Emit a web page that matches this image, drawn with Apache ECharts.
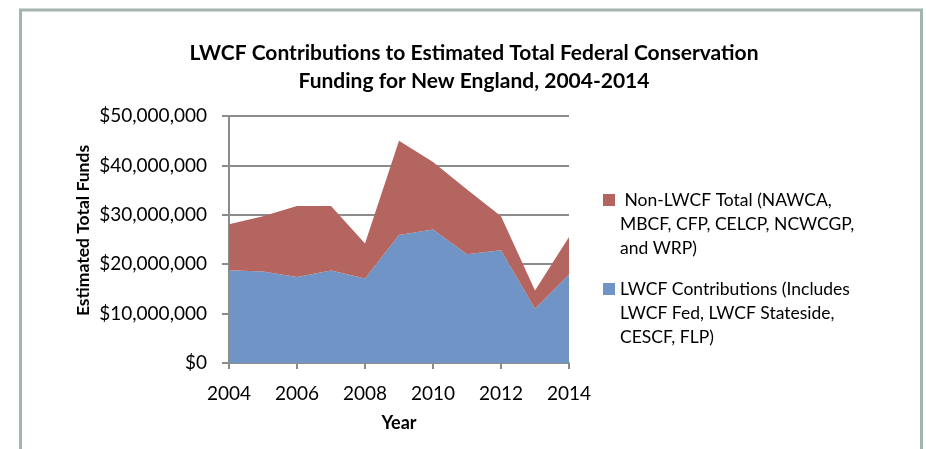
<!DOCTYPE html>
<html>
<head>
<meta charset="utf-8">
<script src="https://cdn.jsdelivr.net/npm/echarts@6/dist/echarts.min.js"></script>
<style>
html,body{margin:0;padding:0;background:#fff;}
#c{width:926px;height:449px;}
</style>
</head>
<body>
<div id="c"></div>
<script>
const years = ['2004','2005','2006','2007','2008','2009','2010','2011','2012','2013','2014'];
const lwcf = [18800000,18500000,17400000,18700000,17100000,25900000,27000000,22000000,22800000,11000000,17900000];
const nonLwcf = [9300000,11200000,14400000,13100000,7100000,19100000,13700000,13100000,6900000,3700000,7600000];
const yTicks = [0,10000000,20000000,30000000,40000000,50000000];

const titleText = 'LWCF Contributions to Estimated Total Federal Conservation\nFunding for New England, 2004-2014';
const nameLwcf = 'LWCF Contributions (Includes LWCF Fed, LWCF Stateside, CESCF, FLP)';
const nameNon = 'Non-LWCF Total (NAWCA, MBCF, CFP, CELCP, NCWCGP, and WRP)';
const legendText = {};
legendText[nameNon] = ' Non-LWCF Total (NAWCA,\nMBCF, CFP, CELCP, NCWCGP,\nand WRP)';
legendText[nameLwcf] = 'LWCF Contributions (Includes\nLWCF Fed, LWCF Stateside,\nCESCF, FLP)';

const FONT = 'Lato';
const chart = echarts.init(document.getElementById('c'), null, {renderer:'canvas'});
const iconPath = 'path://M0,6h12v12h-12z M0,0h0.01v0.01h-0.01z M11.99,71.99h0.01v0.01h-0.01z';

chart.setOption({
  animation:false,
  backgroundColor:'#fff',
  graphic:[{
    type:'rect', shape:{x:20.5,y:10,width:901,height:470},
    style:{fill:'none', stroke:'#a4b5ae', lineWidth:3}, silent:true
  }],
  title:{
    text:titleText, left:474, top:39, textAlign:'center', padding:0,
    textStyle:{fontFamily:FONT, fontWeight:'bold', fontSize:21, lineHeight:28, color:'#000'}
  },
  legend:{
    orient:'vertical', left:603, top:188, itemGap:17, padding:0,
    itemWidth:12, itemHeight:72,
    data:[{name:nameNon, icon:iconPath},{name:nameLwcf, icon:iconPath}],
    formatter:function(n){return legendText[n];},
    textStyle:{fontFamily:FONT, fontSize:17.5, lineHeight:24, color:'#000'},
    selectedMode:false
  },
  grid:{left:229, right:357, top:116, bottom:86, containLabel:false},
  xAxis:{
    type:'category', data:years, boundaryGap:false,
    name:'Year', nameLocation:'middle', nameGap:51,
    nameTextStyle:{fontFamily:FONT, fontWeight:'bold', fontSize:18, color:'#000'},
    axisLine:{show:true, lineStyle:{color:'#8c8c8c', width:2}},
    axisTick:{show:true, interval:1, length:6, lineStyle:{color:'#8c8c8c', width:2}},
    axisLabel:{interval:1, margin:21, fontFamily:FONT, fontSize:19, color:'#000'},
    splitLine:{show:false}
  },
  yAxis:{
    type:'value', min:0, max:50000000, interval:10000000,
    name:'Estimated Total Funds', nameLocation:'middle', nameGap:137,
    nameTextStyle:{fontFamily:FONT, fontWeight:'bold', fontSize:17.5, color:'#000', padding:[0,0,0,18]},
    axisLine:{show:true, lineStyle:{color:'#8c8c8c', width:2}},
    axisTick:{show:true, length:7, lineStyle:{color:'#8c8c8c', width:2}},
    axisLabel:{margin:22, fontFamily:FONT, fontSize:19, color:'#000',
      formatter:function(v){ return '$' + v.toLocaleString('en-US'); }},
    splitLine:{show:true, lineStyle:{color:'#8c8c8c', width:2}}
  },
  series:[
    {name:nameLwcf, type:'line', stack:'total', data:lwcf, symbol:'none',
     lineStyle:{width:0}, areaStyle:{color:'#7194c7', opacity:1}, itemStyle:{color:'#7194c7'}, z:3},
    {name:nameNon, type:'line', stack:'total', data:nonLwcf, symbol:'none',
     lineStyle:{width:0}, areaStyle:{color:'#b5655f', opacity:1}, itemStyle:{color:'#b5655f'}, z:3}
  ]
});
</script>
</body>
</html>
